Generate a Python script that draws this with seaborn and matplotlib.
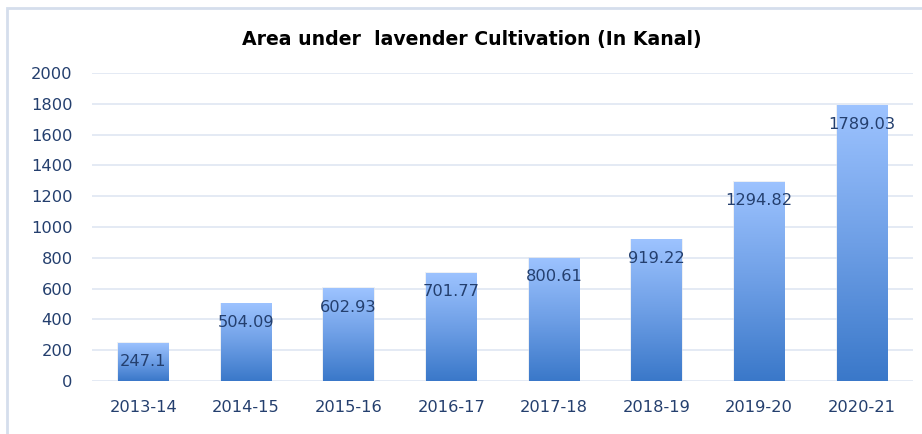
import numpy as np
import pandas as pd
import matplotlib
matplotlib.use("Agg")
import matplotlib.pyplot as plt
import seaborn as sns
from matplotlib.colors import LinearSegmentedColormap
from matplotlib.patches import Rectangle

years = ["2013-14", "2014-15", "2015-16", "2016-17", "2017-18", "2018-19", "2019-20", "2020-21"]
area = [247.1, 504.09, 602.93, 701.77, 800.61, 919.22, 1294.82, 1789.03]
yticks = [0, 200, 400, 600, 800, 1000, 1200, 1400, 1600, 1800, 2000]
title = "Area under  lavender Cultivation (In Kanal)"

sns.set_theme(style="white")
plt.rcParams["font.family"] = ["DejaVu Sans"]

W, H = 922, 434
fig = plt.figure(figsize=(W / 100, H / 100), dpi=100)
fig.patch.set_facecolor("white")
ax = fig.add_axes([92 / W, 1 - 381 / H, (913 - 92) / W, (381 - 73) / H])

df = pd.DataFrame({"year": years, "area": area})
sns.barplot(data=df, x="year", y="area", ax=ax, width=0.49, color="#6A9BE0",
            zorder=2, saturation=1)

cmap = LinearSegmentedColormap.from_list("g", ["#3A78C9", "#6E9FE6", "#9DC3FF"])
grad = np.linspace(0, 1, 256).reshape(-1, 1)
txtcol = "#243F6E"
for p, v in zip(ax.patches, area):
    x0, w, h = p.get_x(), p.get_width(), p.get_height()
    # soft shadow
    ax.add_patch(Rectangle((x0 - 0.01, 0), w + 0.02, h + 5, facecolor="#DDE2EA",
                           edgecolor="none", zorder=1.8, alpha=0.5))
    im = ax.imshow(grad, cmap=cmap, origin="lower", extent=[x0, x0 + w, 0, h],
                   aspect="auto", zorder=2.5, interpolation="bilinear")
    im.set_clip_path(p)
    p.set_facecolor("none")
    p.set_edgecolor("none")
    ax.annotate(f"{v:g}", (x0 + w / 2, h), xytext=(0, -19), textcoords="offset pixels",
                ha="center", va="center", fontsize=11.7, color=txtcol, zorder=4)

ax.set_xlim(-0.5, len(years) - 0.5)
ax.set_ylim(0, 2000)
ax.set_yticks(yticks)
ax.set_yticklabels([str(t) for t in yticks])
ax.yaxis.grid(True, color="#DCE4F1", lw=1.1)
ax.set_axisbelow(True)
for s in ax.spines.values():
    s.set_visible(False)
ax.set_xlabel("")
ax.set_ylabel("")
ax.tick_params(axis="y", length=0, pad=14, labelsize=11.7, labelcolor=txtcol)
ax.tick_params(axis="x", length=0, pad=14, labelsize=11.7, labelcolor=txtcol)

fig.text(472 / W, 1 - 40 / H, title, ha="center", va="center", fontsize=13.6,
         fontweight="bold", color="black", family=["DejaVu Sans"])

fig.add_artist(Rectangle((7 / W, -0.2), 1.5, 1.2 - 8 / H, transform=fig.transFigure,
                         fill=False, edgecolor="#D5DEEC", lw=2))

fig.savefig("out.png", dpi=100)
